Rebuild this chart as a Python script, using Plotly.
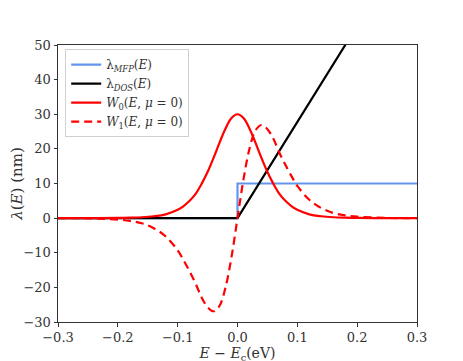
import plotly.graph_objects as go

# energies (eV) and values (nm)
E_w = [-0.30, -0.25, -0.20, -0.18, -0.16, -0.14, -0.12, -0.10, -0.09, -0.08, -0.07,
       -0.06, -0.05, -0.04, -0.03, -0.02, -0.01, 0.00, 0.01, 0.02, 0.03, 0.04, 0.05,
       0.06, 0.07, 0.08, 0.09, 0.10, 0.12, 0.14, 0.16, 0.18, 0.20, 0.25, 0.30]
W0 = [0.0, 0.01, 0.05, 0.12, 0.25, 0.54, 1.1, 2.4, 3.5, 5.0, 7.0,
      9.9, 13.3, 17.4, 21.8, 25.9, 28.9, 30.0, 28.9, 25.9, 21.8, 17.4, 13.3,
      9.9, 7.0, 5.0, 3.5, 2.4, 1.1, 0.54, 0.25, 0.12, 0.05, 0.01, 0.0]
W1 = [0.0, -0.05, -0.41, -0.8, -1.5, -2.9, -5.3, -9.3, -12.2, -15.4, -18.9,
      -22.9, -25.7, -26.9, -25.3, -20.0, -11.2, 0.0, 11.2, 20.0, 25.3, 26.9, 25.7,
      22.9, 18.9, 15.4, 12.2, 9.3, 5.3, 2.9, 1.5, 0.8, 0.41, 0.05, 0.0]

E_mfp = [-0.3, 0.0, 0.0, 0.3]
mfp = [0, 0, 10, 10]

E_dos = [-0.3, 0.0, 0.3]
dos = [0, 0, 83.3]

fig = go.Figure()

fig.add_trace(go.Scatter(x=E_mfp, y=mfp, mode='lines',
                         name='λ<sub><i>MFP</i></sub>(<i>E</i>)',
                         line=dict(color='#6495ED', width=2.2)))
fig.add_trace(go.Scatter(x=E_dos, y=dos, mode='lines',
                         name='λ<sub><i>DOS</i></sub>(<i>E</i>)',
                         line=dict(color='black', width=2.2)))
fig.add_trace(go.Scatter(x=E_w, y=W0, mode='lines', line_shape='spline',
                         name='<i>W</i><sub>0</sub>(<i>E</i>, <i>μ</i> = 0)',
                         line=dict(color='red', width=2.2)))
fig.add_trace(go.Scatter(x=E_w, y=W1, mode='lines', line_shape='spline',
                         name='<i>W</i><sub>1</sub>(<i>E</i>, <i>μ</i> = 0)',
                         line=dict(color='red', width=2.2, dash='8px,5px')))

serif = 'DejaVu Serif'

axis_style = dict(showgrid=False, zeroline=False, showline=True, linecolor='#333',
                  linewidth=1, mirror=True, ticks='outside', ticklen=3.5,
                  tickcolor='#333', automargin=False,
                  tickfont=dict(family=serif, size=13, color='#333'))

# page body adds an 8px offset, margins are set to compensate
fig.update_layout(
    width=463, height=361,
    margin=dict(l=50, r=54, t=37, b=47),
    paper_bgcolor='white', plot_bgcolor='white',
    font=dict(family=serif, color='#333'),
    showlegend=True,
    legend=dict(x=0.02, y=0.985, xanchor='left', yanchor='top',
                bgcolor='rgba(255,255,255,0.8)', bordercolor='#d0d0d0', borderwidth=1,
                font=dict(family=serif, size=12), itemwidth=30, tracegroupgap=0),
)
fig.update_xaxes(range=[-0.3, 0.3], dtick=0.1, tickformat='.1f',
                 title=dict(text='<i>E</i> − <i>E</i><sub>c</sub>(eV)',
                            font=dict(family=serif, size=14), standoff=0),
                 **axis_style)
fig.update_yaxes(range=[-30, 50], dtick=10,
                 title=dict(text='<i>λ</i>(<i>E</i>) (nm)',
                            font=dict(family=serif, size=15), standoff=2),
                 **axis_style)

fig.write_html("out.html")
